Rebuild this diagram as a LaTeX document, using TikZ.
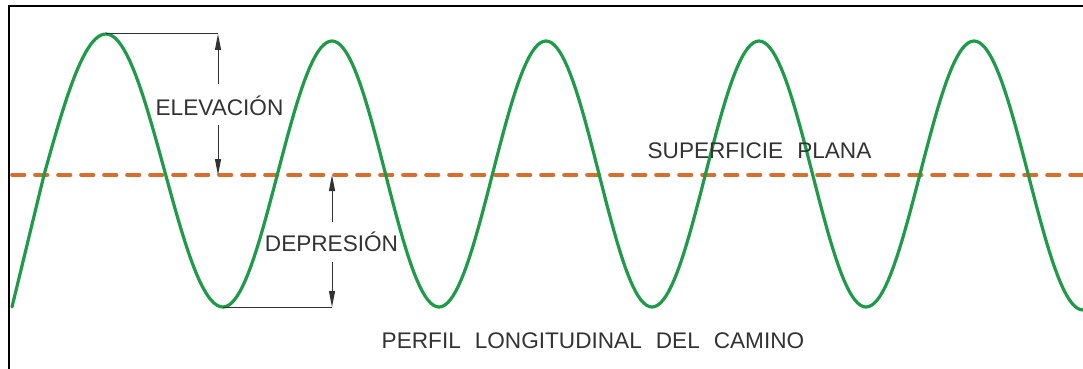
\documentclass[tikz,border=0pt]{standalone}
\usepackage{fontspec}
\setmainfont{Liberation Sans}
\usetikzlibrary{arrows.meta}
\definecolor{wavegreen}{RGB}{30,155,72}
\definecolor{flatorange}{RGB}{214,110,45}
\definecolor{dimgray}{RGB}{50,50,50}
\tikzset{
  wave/.style={draw=wavegreen, line width=3.2pt, line join=round, line cap=round},
  flat/.style={draw=flatorange, line width=3.6pt, line cap=round, dash pattern=on 12.5pt off 10.5pt},
  frameline/.style={draw=black, line width=2.2pt},
  dimline/.style={draw=dimgray, line width=1pt},
  dimarrow/.style={dimline, -{Triangle[length=16pt,width=6pt]}},
  lbl/.style={text=dimgray, font=\fontsize{22.6}{24}\selectfont, inner sep=0pt},
}
\begin{document}
\begin{tikzpicture}[x=1pt,y=-1pt]
\useasboundingbox (0,0) rectangle (1083,369);
% frame
\draw[frameline] (9,369) -- (9,6) -- (1083,6);
% flat surface
\draw[flat] (12,175) -- (1083,175);
% wave
\draw[wave] (12,307) -- (44,175)
  -- plot[domain=0:90,samples=25] ({44+62*(\x/90)},{175-141*sin(\x)})
  -- plot[domain=0:180,samples=40] ({106+117*(\x/180)},{170.5-136.5*cos(\x)})
  -- plot[domain=0:180,samples=40] ({223+109*(\x/180)},{174+133*cos(\x)})
  -- plot[domain=0:180,samples=40] ({332+107*(\x/180)},{174-133*cos(\x)})
  -- plot[domain=0:180,samples=40] ({439+107*(\x/180)},{174+133*cos(\x)})
  -- plot[domain=0:180,samples=40] ({546+106*(\x/180)},{174-133*cos(\x)})
  -- plot[domain=0:180,samples=40] ({652+107*(\x/180)},{174+133*cos(\x)})
  -- plot[domain=0:180,samples=40] ({759+107*(\x/180)},{174-133*cos(\x)})
  -- plot[domain=0:180,samples=40] ({866+108*(\x/180)},{174+133*cos(\x)})
  -- plot[domain=0:180,samples=40] ({974+109*(\x/180)},{175.5-134.5*cos(\x)});
% key points
\coordinate (peak) at (106,34);
\coordinate (elevtop) at (218,34);
\coordinate (elevbot) at (218,175);
\coordinate (elevup) at (218,84);
\coordinate (elevdn) at (218,125);
\coordinate (trough) at (223,307);
\coordinate (deptop) at (332,175);
\coordinate (depbot) at (332,307);
\coordinate (depup) at (332,222);
\coordinate (depdn) at (332,262);
% labels
\node[lbl] (elev) at (219.5,105.5) {ELEVACIÓN};
\node[lbl] (dep) at (331.5,242) {DEPRESIÓN};
\node[lbl] (sup) at (759.5,151) {SUPERFICIE\hspace{0.62em}PLANA};
\node[lbl] (perf) at (593,341) {PERFIL\hspace{0.62em}LONGITUDINAL\hspace{0.62em}DEL\hspace{0.62em}CAMINO};
% dimensions
\draw[dimline] (peak) -- (elevtop);
\draw[dimarrow] (elevup) -- (elevtop);
\draw[dimarrow] (elevdn) -- (elevbot);
\draw[dimline] (trough) -- (depbot);
\draw[dimarrow] (depup) -- (deptop);
\draw[dimarrow] (depdn) -- (depbot);
\end{tikzpicture}
\end{document}
